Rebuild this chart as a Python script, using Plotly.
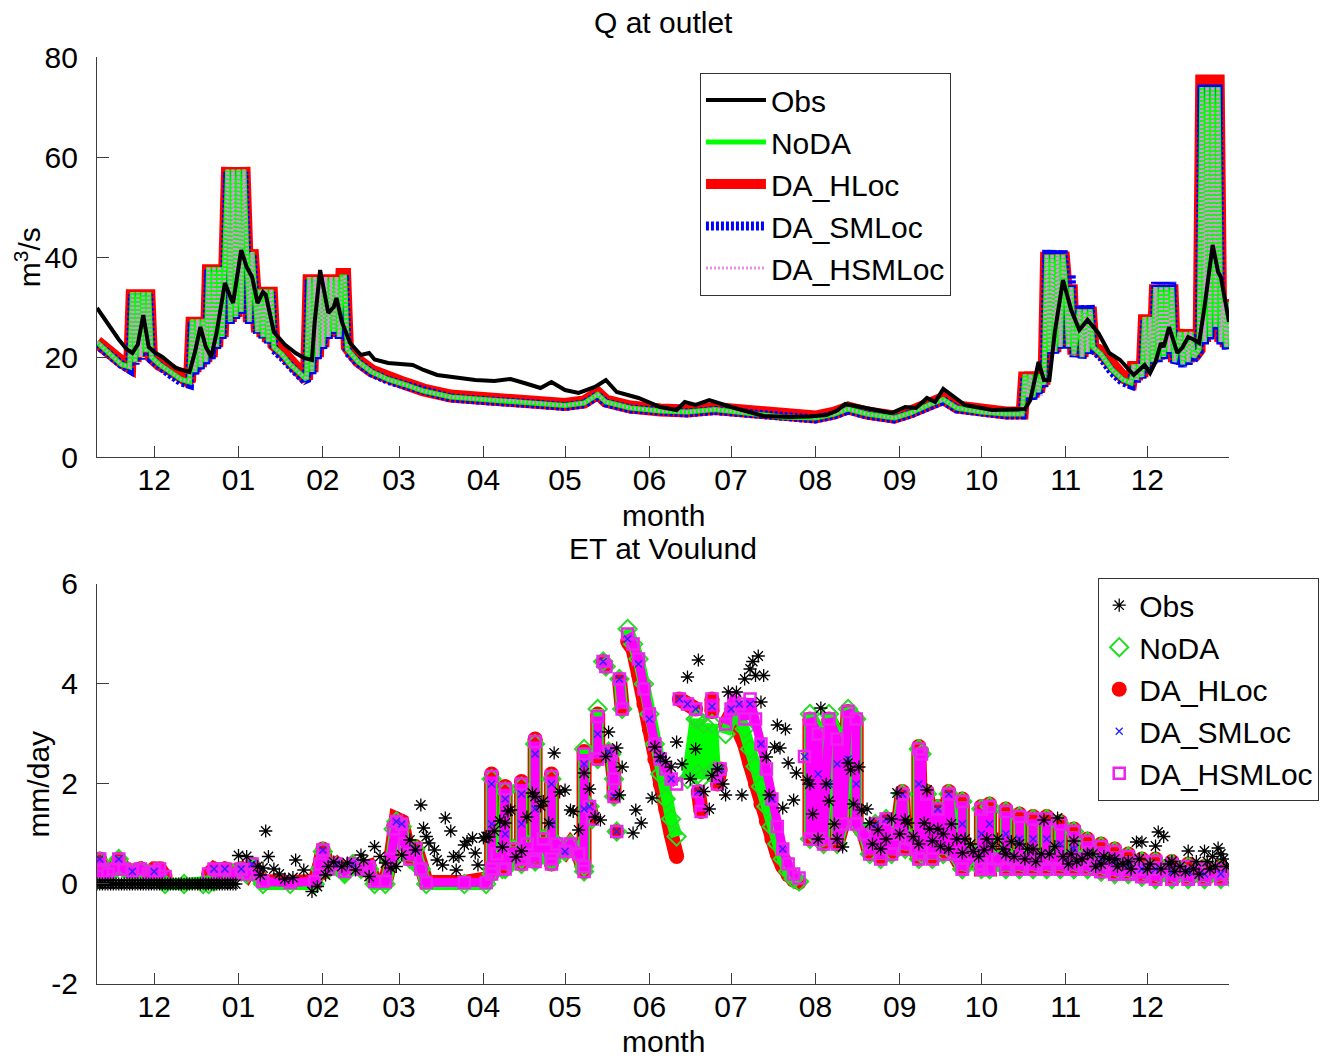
import plotly.graph_objects as go
import pandas as pd

# ------------------------------------------------------------------
# Q at outlet (m3/s)
# ------------------------------------------------------------------
q_obs_dates = [
    '2009-11-10', '2009-11-14', '2009-11-18', '2009-11-21', '2009-11-23', '2009-11-25', '2009-11-27', '2009-11-29',
    '2009-12-01', '2009-12-04', '2009-12-09', '2009-12-12', '2009-12-14', '2009-12-16', '2009-12-18', '2009-12-20',
    '2009-12-22', '2009-12-24', '2009-12-26', '2009-12-27', '2009-12-29', '2009-12-30', '2010-01-02', '2010-01-04',
    '2010-01-06', '2010-01-08', '2010-01-10', '2010-01-11', '2010-01-14', '2010-01-18', '2010-01-22', '2010-01-25',
    '2010-01-28', '2010-01-29', '2010-01-31', '2010-02-02', '2010-02-03', '2010-02-05', '2010-02-06', '2010-02-08',
    '2010-02-11', '2010-02-15', '2010-02-18', '2010-02-20', '2010-02-25', '2010-03-06', '2010-03-10', '2010-03-15',
    '2010-03-22', '2010-03-29', '2010-04-05', '2010-04-11', '2010-04-16', '2010-04-22', '2010-04-26', '2010-05-01',
    '2010-05-06', '2010-05-10', '2010-05-12', '2010-05-16', '2010-05-20', '2010-05-28', '2010-06-05', '2010-06-11',
    '2010-06-14', '2010-06-18', '2010-06-23', '2010-07-01', '2010-07-07', '2010-07-13', '2010-07-23', '2010-07-30',
    '2010-08-05', '2010-08-09', '2010-08-12', '2010-08-18', '2010-08-24', '2010-08-29', '2010-09-03', '2010-09-07',
    '2010-09-11', '2010-09-14', '2010-09-17', '2010-09-20', '2010-09-25', '2010-10-05', '2010-10-12', '2010-10-17',
    '2010-10-19', '2010-10-22', '2010-10-24', '2010-10-26', '2010-10-28', '2010-10-31', '2010-11-03', '2010-11-06',
    '2010-11-09', '2010-11-13', '2010-11-17', '2010-11-21', '2010-11-26', '2010-11-28', '2010-11-30', '2010-12-02',
    '2010-12-04', '2010-12-06', '2010-12-07', '2010-12-09', '2010-12-12', '2010-12-14', '2010-12-16', '2010-12-18',
    '2010-12-20', '2010-12-22', '2010-12-25', '2010-12-27', '2010-12-28', '2010-12-31']
q_obs = [
    29.8, 26.5, 23.5, 21.5, 20.8, 22.5, 28.4, 22,
    21, 20, 17.8, 17.3, 17, 21, 26, 22,
    20, 25, 32, 34.8, 32, 30.8, 41.4, 38,
    36, 30.8, 33, 32.5, 25, 22.5, 20.8, 19.8,
    19.4, 27, 37.4, 32, 28.8, 30, 31.8, 27,
    22.8, 20.4, 20.8, 19.5, 18.8, 18.4, 17.4, 16.4,
    15.8, 15.4, 15.2, 15.6, 14.8, 13.8, 15, 13.4,
    12.8, 13.5, 14, 15.4, 13, 11.8, 10, 9.4,
    11, 10.4, 11.4, 10, 9, 8.2, 8, 8.1,
    8.4, 9.3, 10.6, 10, 9.3, 8.8, 10, 9.8,
    11.8, 11, 13.6, 12.4, 10.4, 9.4, 9.6, 9.6,
    11.4, 19, 15.4, 15.4, 25, 35.4, 29.4, 25.4,
    27.4, 24.8, 20.8, 19.4, 16.4, 17.5, 18.4, 16.8,
    19, 22.8, 22, 26, 20.8, 22, 24, 23.5,
    22.8, 30, 42.4, 37, 36, 27]

q_sim_dates = [
    '2009-11-10', '2009-11-13', '2009-11-16', '2009-11-19', '2009-11-22', '2009-11-23', '2009-11-24', '2009-11-25',
    '2009-11-26', '2009-11-27', '2009-11-28', '2009-11-29', '2009-11-30', '2009-12-03', '2009-12-07', '2009-12-11',
    '2009-12-14',
    '2009-12-15', '2009-12-16', '2009-12-17', '2009-12-18', '2009-12-19', '2009-12-20', '2009-12-21', '2009-12-22',
    '2009-12-23', '2009-12-24', '2009-12-25', '2009-12-26', '2009-12-27', '2009-12-28', '2009-12-29', '2009-12-30',
    '2009-12-31', '2010-01-01', '2010-01-02', '2010-01-03', '2010-01-04', '2010-01-05', '2010-01-06', '2010-01-07',
    '2010-01-08', '2010-01-09', '2010-01-10', '2010-01-11', '2010-01-12', '2010-01-13', '2010-01-14',
    '2010-01-17', '2010-01-20', '2010-01-23', '2010-01-26', '2010-01-27', '2010-01-28', '2010-01-29', '2010-01-30',
    '2010-01-31', '2010-02-01', '2010-02-02', '2010-02-03', '2010-02-04', '2010-02-05', '2010-02-06', '2010-02-07',
    '2010-02-08', '2010-02-09', '2010-02-10',
    '2010-02-14', '2010-02-19', '2010-02-25', '2010-03-03', '2010-03-10', '2010-03-20', '2010-04-01', '2010-04-10',
    '2010-04-20', '2010-05-01', '2010-05-08', '2010-05-13', '2010-05-16', '2010-05-25', '2010-06-05', '2010-06-15',
    '2010-06-25', '2010-07-01', '2010-07-10', '2010-07-20', '2010-08-01', '2010-08-08', '2010-08-13', '2010-08-20',
    '2010-08-30', '2010-09-05', '2010-09-12', '2010-09-17', '2010-09-22', '2010-10-01', '2010-10-10', '2010-10-16',
    '2010-10-17', '2010-10-18', '2010-10-19', '2010-10-20', '2010-10-21', '2010-10-22', '2010-10-23', '2010-10-24',
    '2010-10-25', '2010-10-26', '2010-10-27', '2010-10-28', '2010-10-29', '2010-10-30', '2010-10-31', '2010-11-01',
    '2010-11-02', '2010-11-03', '2010-11-04', '2010-11-06', '2010-11-07', '2010-11-08', '2010-11-09', '2010-11-10',
    '2010-11-11', '2010-11-14', '2010-11-18', '2010-11-22', '2010-11-25', '2010-11-26', '2010-11-27', '2010-11-28',
    '2010-11-29',
    '2010-11-30', '2010-12-01', '2010-12-02', '2010-12-03', '2010-12-04', '2010-12-05', '2010-12-06', '2010-12-07',
    '2010-12-08', '2010-12-09', '2010-12-10', '2010-12-11', '2010-12-13', '2010-12-14', '2010-12-15', '2010-12-16',
    '2010-12-17', '2010-12-18', '2010-12-20', '2010-12-21', '2010-12-22', '2010-12-23', '2010-12-24', '2010-12-25',
    '2010-12-26', '2010-12-27', '2010-12-28', '2010-12-29', '2010-12-30', '2010-12-31']

q_noda = [
    23, 21.5, 20, 18.5, 18, 33, 19, 33, 20, 33, 21, 33, 20, 18.5, 17, 15.5, 15,
    27.5, 17, 27.5, 18, 27.5, 19, 38, 20, 38, 22, 38, 24, 38, 57.5, 27, 57.5, 28, 57.5, 29, 57.5,
    41, 27, 41, 33.5, 25, 33.5, 24, 33.5, 23, 33.5, 22,
    20.5, 18.5, 17, 15.5, 36, 17, 36, 20, 36, 22, 36, 24, 36, 25, 36, 24, 36, 36, 21.5,
    19, 17, 15.5, 14.5, 13.2, 12, 11.5, 11.3, 10.8, 10.3, 10.8, 12.5, 11, 9.8, 9.2, 9,
    9.5, 9.2, 8.6, 8, 7.8, 8.6, 9.6, 8.6, 7.8, 8.8, 10.5, 11.5, 9.8, 9, 8.6, 8.6,
    16.5, 12, 16.5, 12, 16.5, 13, 16.5, 14.5, 40.5, 21, 40.5, 21, 40.5, 22, 40.5, 34,
    22, 34, 20.5, 29.5, 20, 29.5, 21, 29.5, 22, 20.5, 17.5, 15.5, 14.8, 18.5, 15.5, 18.5, 16,
    28, 18, 28, 19, 34, 19.5, 34, 20, 34, 21, 34, 19, 25, 18.5, 25, 19, 25, 20, 21.5,
    74, 23, 74, 24, 74, 26, 74, 23, 31, 22, 31]
q_da_hloc = [
    23, 21.5, 20.5, 19, 18, 33.5, 19, 33.5, 20, 33.5, 21, 33.5, 20, 18.5, 17.5, 16, 15,
    28, 17, 28, 18, 28, 19, 38.5, 20, 38.5, 22, 38.5, 24, 38.5, 58, 27, 58, 28, 58, 29, 58,
    41.5, 27, 41.5, 34, 25, 34, 24, 34, 23, 34, 22.5,
    21, 19, 17.5, 15.5, 36.5, 17, 36.5, 20, 36.5, 22, 36.5, 24, 36.5, 25, 36.5, 24, 36.5, 36.5, 22,
    19.2, 17.2, 15.7, 14.7, 13.4, 12.2, 11.7, 11.5, 11, 10.5, 11, 12.7, 11.2, 10, 9.4, 9.2,
    9.7, 9.4, 8.8, 8.2, 8, 8.8, 9.8, 8.8, 8, 9, 10.7, 11.7, 10, 9.2, 8.8, 8.8,
    17, 12, 17, 12, 17, 13, 17, 14.5, 41, 21, 41, 21, 41, 22, 41, 34.5,
    22, 34.5, 20.5, 30, 20, 30, 21, 30, 22, 21, 18, 16, 15.2, 19, 15.5, 19, 16,
    28.5, 18, 28.5, 19, 34.5, 19.5, 34.5, 20, 34.5, 21, 34.5, 19, 25.5, 18.5, 25.5, 19, 25.5, 20, 21.5,
    76.5, 23, 76.5, 24, 76.5, 26, 76.5, 23, 31.5, 22, 31.5]
q_da_smloc = [
    22.5, 21, 19.5, 18.5, 17.5, 32.5, 18.5, 32.5, 19.5, 32.5, 20.5, 32.5, 19.5, 18, 16.5, 15, 14.5,
    27, 16.5, 27, 17.5, 27, 18.5, 37.5, 19.5, 37.5, 21.5, 37.5, 23.5, 37.5, 57, 26.5, 57, 27.5, 57, 28.5, 57,
    40.5, 26.5, 40.5, 33, 24.5, 33, 23.5, 33, 22.5, 33, 21.5,
    20, 18, 16.5, 15, 35.5, 16.5, 35.5, 19.5, 35.5, 21.5, 35.5, 23.5, 35.5, 24.5, 35.5, 23.5, 35.5, 35.5, 21,
    18.8, 16.8, 15.3, 14.3, 13, 11.8, 11.3, 11.1, 10.6, 10.1, 10.6, 12.3, 10.8, 9.6, 9, 8.8,
    9.3, 9, 8.4, 7.8, 7.6, 8.4, 9.4, 8.4, 7.6, 8.6, 10.3, 11.3, 9.6, 8.8, 8.4, 8.4,
    16, 11.5, 16, 11.5, 16, 12.5, 16, 14, 41.5, 20.5, 41.5, 20.5, 41.5, 21.5, 41.5, 36.5,
    21.5, 36.5, 20, 30.5, 19.5, 30.5, 20.5, 30.5, 21.5, 20, 17, 15, 14.4, 18, 15, 18, 15.5,
    27.5, 17.5, 27.5, 18.5, 35, 19, 35, 19.5, 35, 20.5, 35, 18.5, 24.5, 18, 24.5, 18.5, 24.5, 19.5, 21,
    74.5, 22.5, 74.5, 23.5, 74.5, 25.5, 74.5, 22.5, 30.5, 21.5, 30.5]
q_da_hsmloc = [
    23, 21.5, 20, 18.5, 18, 33, 19, 33, 20, 33, 21, 33, 20, 18.5, 17, 15.5, 15,
    27.5, 17, 27.5, 18, 27.5, 19, 38, 20, 38, 22, 38, 24, 38, 57.5, 27, 57.5, 28, 57.5, 29, 57.5,
    41, 27, 41, 33.5, 25, 33.5, 24, 33.5, 23, 33.5, 22,
    20.5, 18.5, 17, 15.5, 36, 17, 36, 20, 36, 22, 36, 24, 36, 25, 36, 24, 36, 36, 21.5,
    19, 17, 15.5, 14.5, 13.2, 12, 11.5, 11.3, 10.8, 10.3, 10.8, 12.5, 11, 9.8, 9.2, 9,
    9.5, 9.2, 8.6, 8, 7.8, 8.6, 9.6, 8.6, 7.8, 8.8, 10.5, 11.5, 9.8, 9, 8.6, 8.6,
    16.5, 12, 16.5, 12, 16.5, 13, 16.5, 14.5, 40.5, 21, 40.5, 21, 40.5, 22, 40.5, 34,
    22, 34, 20.5, 29.5, 20, 29.5, 21, 29.5, 22, 20.5, 17.5, 15.5, 14.8, 18.5, 15.5, 18.5, 16,
    28, 18, 28, 19, 34, 19.5, 34, 20, 34, 21, 34, 19, 25, 18.5, 25, 19, 25, 20, 21.5,
    74, 23, 74, 24, 74, 26, 74, 23, 31, 22, 31]

# ------------------------------------------------------------------
# ET at Voulund (mm/day)
# ------------------------------------------------------------------
et_start = '2009-11-10'
et_obs_day = [
    0, 1, 2, 3, 4, 5, 6, 7, 8, 9, 10, 11, 12, 13, 14, 15, 16, 17, 18, 19, 20, 21, 22, 23, 24, 25,
    26, 27, 28, 29, 30, 31, 32, 33, 34, 35, 36, 37, 38, 39, 40, 41, 42, 43, 44, 45, 46, 47, 48, 49, 50, 51,
    52, 55, 59, 60, 61, 62, 63, 65, 67, 69, 72, 73, 76, 79, 81, 84, 85, 87, 90, 92, 95, 97, 98, 100,
    102, 104, 106, 108, 110, 112, 115, 117, 119, 120, 121, 122, 124, 125, 127, 128, 130, 131, 132, 133,
    135, 136, 138, 139, 140, 142, 143, 144, 146, 148, 149, 150, 151, 152, 154, 156, 158, 160, 161, 163,
    164, 166, 168, 170, 172, 174, 175, 177, 179, 181, 183, 185, 187, 188, 191, 192, 193, 197, 198, 200,
    204, 205, 207, 209, 211, 213, 215, 217, 218, 220, 221, 223, 225, 226, 228, 230, 231, 232, 235, 237,
    238, 240, 241, 242, 243, 244, 245, 246, 247, 249, 250, 251, 252, 253, 254, 256, 257, 261, 262, 266,
    268, 269, 274, 276, 277, 280, 281, 284, 287, 290, 294, 297, 298, 300, 304, 305, 307, 309, 311, 313,
    316, 318, 321, 324, 326, 329, 331, 334, 337, 339, 341, 344, 345, 348, 350, 353, 355, 357, 359, 362,
    364, 367, 370, 372, 375, 377, 380, 382, 384, 386, 387, 389, 390, 392, 394, 396, 398, 401, 403, 405,
    407, 409, 410, 412, 413, 414, 415,
    263, 265, 271, 272, 278, 283, 285, 288, 292, 295, 302, 306, 310, 314, 319, 322, 327, 333, 336, 342,
    347, 352, 358, 360, 366, 369, 374, 379, 383, 391, 395, 400, 404, 408, 411]
et_obs = [
    0.0, 0.0, 0.0, 0.0, 0.0, 0.0, 0.0, 0.0, 0.0, 0.0, 0.0, 0.0, 0.0, 0.0, 0.0, 0.0, 0.0, 0.0, 0.0, 0.0, 0.0, 0.0, 0.0, 0.0, 0.0, 0.0,
    0.0, 0.0, 0.0, 0.0, 0.0, 0.0, 0.0, 0.0, 0.0, 0.0, 0.0, 0.0, 0.0, 0.0, 0.0, 0.0, 0.0, 0.0, 0.0, 0.0, 0.0, 0.0, 0.0, 0.0, 0.0, 0.0,
    0.57, 0.55, 0.35, 0.18, 0.32, 1.06, 0.55, 0.3, 0.2, 0.1, 0.13, 0.48, 0.28, -0.15, -0.05, 0.18, 0.35, 0.44, 0.35, 0.42, 0.28, 0.58, 0.48, 0.15,
    0.75, 0.55, 0.42, 0.32, 0.35, 0.58, 0.88, 0.68, 1.58, 1.12, 0.95, 0.82, 0.68, 0.48, 0.38, 1.32, 1.06, 0.55, 0.28, 0.55,
    0.78, 0.85, 0.92, 0.62, 0.38, 0.92, 0.95, 0.94, 1.06, 1.26, 0.74, 1.22, 1.46, 1.48, 0.54, 0.66, 1.34, 1.82, 1.75, 1.56,
    1.65, 1.22, 2.62, 1.84, 1.88, 1.48, 1.45, 1.08, 2.22, 1.9, 1.34, 1.28, 2.55, 3.04, 2.72, 1.78, 2.34, 1.02, 1.48, 1.22,
    1.72, 2.74, 2.54, 2.45, 2.34, 2.84, 2.4, 4.14, 2.1, 2.7, 4.48, 1.85, 1.5, 2.17, 2.3, 2.0, 1.78, 3.84, 3.84, 1.78,
    4.1, 4.3, 4.45, 4.17, 4.56, 3.64, 4.17, 2.54, 1.78, 2.74, 3.18, 2.72, 1.52, 3.1, 2.42, 1.68, 2.22, 2.08, 2.0, 3.52,
    2.0, 1.66, 0.74, 2.42, 2.28, 2.34, 1.48, 1.22, 1.08, 0.9, 1.82, 1.28, 1.22, 0.95, 1.22, 1.88, 0.86, 1.1, 1.0, 0.7,
    0.9, 0.62, 0.8, 0.55, 0.68, 0.75, 0.9, 0.6, 0.55, 0.8, 0.5, 0.7, 0.45, 1.28, 0.6, 1.32, 0.55, 0.4, 0.86, 0.5,
    0.6, 0.35, 0.55, 0.5, 0.35, 0.4, 0.3, 0.84, 0.84, 0.3, 0.4, 0.76, 1.04, 0.95, 0.4, 0.25, 0.35, 0.66, 0.3, 0.2,
    0.66, 0.3, 0.55, 0.72, 0.6, 0.5, 0.35,
    1.4, 0.9, 1.2, 0.9, 1.6, 1.5, 0.8, 0.7, 1.3, 1.0, 0.8, 1.1, 0.75, 1.2, 0.9, 0.65, 0.9, 0.7, 0.85, 0.7,
    0.6, 0.75, 0.6, 0.45, 0.6, 0.4, 0.5, 0.45, 0.5, 0.3, 0.45, 0.25, 0.45, 0.45, 0.35]

et_sim_dates = [
    # A
    '2009-11-10', '2009-11-11', '2009-11-12', '2009-11-14', '2009-11-16', '2009-11-18', '2009-11-20', '2009-11-23',
    '2009-11-26', '2009-11-29', '2009-12-01', '2009-12-03', '2009-12-05',
    # B
    '2009-12-12', '2009-12-19', '2009-12-21', '2009-12-23', '2009-12-25', '2009-12-27', '2009-12-30', '2010-01-02',
    '2010-01-04', '2010-01-06', '2010-01-08', '2010-01-10', '2010-01-20', '2010-01-29',
    # C
    '2010-01-31', '2010-02-01', '2010-02-03', '2010-02-06', '2010-02-09', '2010-02-12', '2010-02-15', '2010-02-18',
    '2010-02-20', '2010-02-24', '2010-02-26', '2010-02-27', '2010-02-28', '2010-03-02', '2010-03-03', '2010-03-05',
    '2010-03-07', '2010-03-09', '2010-03-11', '2010-03-25',
    # D
    '2010-04-02', '2010-04-04', '2010-04-04', '2010-04-04', '2010-04-06', '2010-04-08', '2010-04-09', '2010-04-09',
    '2010-04-12', '2010-04-15', '2010-04-15', '2010-04-15', '2010-04-17', '2010-04-20', '2010-04-20', '2010-04-20',
    '2010-04-23', '2010-04-26', '2010-04-26', '2010-04-26', '2010-04-28', '2010-05-01', '2010-05-03', '2010-05-06',
    '2010-05-08', '2010-05-08', '2010-05-08',
    # E
    '2010-05-09', '2010-05-10', '2010-05-11', '2010-05-12', '2010-05-13', '2010-05-13', '2010-05-14', '2010-05-15',
    '2010-05-16', '2010-05-16', '2010-05-17', '2010-05-18', '2010-05-19', '2010-05-19', '2010-05-20', '2010-05-20',
    '2010-05-21', '2010-05-21', '2010-05-22', '2010-05-23', '2010-05-24', '2010-05-26', '2010-05-28', '2010-05-30',
    '2010-06-01', '2010-06-03', '2010-06-05', '2010-06-07', '2010-06-09', '2010-06-11',
    # F
    '2010-06-11', '2010-06-12', '2010-06-15', '2010-06-18', '2010-06-19', '2010-06-19', '2010-06-20', '2010-06-21',
    '2010-06-24', '2010-06-24', '2010-06-25', '2010-06-26', '2010-06-27', '2010-06-28', '2010-06-29', '2010-07-01',
    '2010-07-02', '2010-07-04', '2010-07-06', '2010-07-08', '2010-07-10', '2010-07-12', '2010-07-14', '2010-07-16',
    '2010-07-18', '2010-07-20', '2010-07-22', '2010-07-24', '2010-07-26',
    # G
    '2010-07-27', '2010-07-28', '2010-07-29', '2010-07-30', '2010-07-30', '2010-08-02', '2010-08-02', '2010-08-04',
    '2010-08-06', '2010-08-09', '2010-08-09', '2010-08-11', '2010-08-13', '2010-08-16', '2010-08-16', '2010-08-19',
    '2010-08-21', '2010-08-23', '2010-08-25', '2010-08-27', '2010-08-29',
    # H
    '2010-08-31', '2010-09-02', '2010-09-03', '2010-09-05', '2010-09-08', '2010-09-08', '2010-09-09', '2010-09-09',
    '2010-09-11', '2010-09-13', '2010-09-15', '2010-09-17', '2010-09-19', '2010-09-21', '2010-09-24', '2010-09-24',
    '2010-09-24', '2010-09-28', '2010-10-01', '2010-10-01', '2010-10-01', '2010-10-04', '2010-10-04', '2010-10-04',
    '2010-10-07', '2010-10-10', '2010-10-10', '2010-10-10', '2010-10-13', '2010-10-15', '2010-10-15', '2010-10-15',
    '2010-10-18', '2010-10-20', '2010-10-20', '2010-10-20',
    # I
    '2010-10-23', '2010-10-25', '2010-10-25', '2010-10-25', '2010-10-28', '2010-10-30', '2010-10-30', '2010-10-30',
    '2010-11-02', '2010-11-04', '2010-11-04', '2010-11-04', '2010-11-07', '2010-11-09', '2010-11-09', '2010-11-09',
    '2010-11-12', '2010-11-14', '2010-11-14', '2010-11-14', '2010-11-17', '2010-11-19', '2010-11-19', '2010-11-19',
    '2010-11-22', '2010-11-24', '2010-11-24', '2010-11-24', '2010-11-27', '2010-11-29', '2010-11-29', '2010-11-29',
    '2010-12-02', '2010-12-04', '2010-12-04', '2010-12-04', '2010-12-08', '2010-12-10', '2010-12-10', '2010-12-10',
    '2010-12-14', '2010-12-16', '2010-12-16', '2010-12-16', '2010-12-20', '2010-12-22', '2010-12-22', '2010-12-22',
    '2010-12-26', '2010-12-28', '2010-12-28', '2010-12-31']

et_da_hsmloc = [
    0.15, 0.5, 0.25, 0.2, 0.3, 0.5, 0.3, 0.25, 0.3, 0.2, 0.25, 0.3, 0.15,
    None, None, 0.2, 0.3, 0.2, 0.3, 0.2, 0.3, 0.2, 0.4, 0.2, 0.05, 0.03, 0.05,
    0.4, 0.68, 0.3, 0.4, 0.25, 0.4, 0.3, 0.35, 0.05, 0.05, 0.5, 1.1, 1.25, 1.2, 0.8, 0.5, 0.7, 0.3, 0.03, 0.03,
    0.03, 0.2, 2.15, 0.3, 0.6, 0.3, 1.9, 0.3, 0.7, 0.4, 2.0, 0.5, 0.8, 0.45, 2.85, 0.5, 0.9, 0.4, 2.15, 0.5,
    0.8, 0.65, 0.8, 0.6, 0.25, 2.6, 0.35,
    None, 1.55, 1.3, None, 2.5, 3.35, None, 4.45, 4.35, None, 2.65, 2.6, 2.1, 1.75, None, 1.05, None, 4.1, 3.5, None,
    5.0, 4.8, 4.5, 3.9, 3.4, 2.8, 2.5, 2.3, 2.1, 2.0,
    None, 3.7, 3.6, 3.5, None, 1.85, 1.45, None, 3.7, 3.45, None, 2.0, 2.3, None, 3.2, 3.5, 3.7, 3.6, 3.3, 3.7,
    3.3, 2.8, 2.3, 1.7, 1.15, 0.7, 0.4, 0.2, 0.12,
    None, 2.55, None, 0.9, 3.3, 3.0, 0.9, 0.8, 3.3, 2.9, 0.8, 1.2, 3.45, 3.3, 1.2, 1.0, 0.6, 1.2, 0.5, 1.3, 0.6,
    1.0, 1.8, 0.7, 0.9, 0.5, 2.7, 2.6, 0.6, 1.8, 0.5, 1.5, 0.6, 1.8, 0.6, 0.3, 1.65, 0.3, 0.6, 0.4, 1.5,
    0.3, 0.3, 1.55, 0.3, 0.5, 0.3, 1.45, 0.3, 0.5, 0.3, 1.35, 0.3, 0.5, 0.3, 1.3, 0.3,
    0.5, 0.3, 1.3, 0.3, 0.5, 0.3, 1.2, 0.3, 0.5, 0.3, 1.05, 0.3, 0.5, 0.3, 0.85, 0.3, 0.4, 0.25, 0.75, 0.25,
    0.4, 0.2, 0.65, 0.2, 0.35, 0.2, 0.55, 0.2, 0.3, 0.15, 0.45, 0.15, 0.3, 0.1, 0.45, 0.1, 0.3, 0.1, 0.4, 0.1,
    0.25, 0.1, 0.35, 0.1, 0.25, 0.1, 0.3, 0.1, 0.25, 0.1, 0.3, 0.15]
et_da_hloc = [
    0.15, 0.5, 0.25, 0.2, 0.3, 0.5, 0.3, 0.25, 0.3, 0.2, 0.3, 0.3, 0.15,
    None, None, 0.2, 0.3, 0.25, 0.3, 0.25, 0.3, 0.2, 0.4, 0.2, 0.05, 0.03, 0.05,
    0.4, 0.7, 0.3, 0.4, 0.25, 0.4, 0.3, 0.35, 0.05, 0.05, 0.5, 1.15, 1.3, 1.25, 0.8, 0.5, 0.75, 0.3, 0.03, 0.03,
    0.1, 0.2, 2.2, 0.3, 0.6, 0.3, 1.95, 0.3, 0.7, 0.4, 2.05, 0.5, 0.8, 0.45, 2.9, 0.5, 0.9, 0.4, 2.2, 0.5,
    0.8, 0.65, 0.8, 0.6, 0.25, 2.65, 0.35,
    None, 1.55, 1.3, None, 2.5, 3.4, None, 4.45, 4.35, None, 2.65, 2.6, 2.1, 1.75, None, 1.05, None, 4.1, 3.5, None,
    4.85, 4.7, 4.2, 3.6, 3.1, 2.5, 2.0, 1.5, 1.0, 0.55,
    None, 3.7, 3.6, 3.5, None, 1.85, 1.45, None, 3.7, 3.45, None, 2.0, 2.3, None, 3.2, 3.4, 3.3, 3.1, 2.8, 2.4,
    2.0, 1.6, 1.25, 0.9, 0.6, 0.35, 0.18, 0.08, 0.03,
    None, None, None, 0.9, 3.3, 3.0, 0.9, 0.8, 3.3, 3.0, 0.8, 1.2, 3.45, 3.3, 1.2, 1.0, 0.6, 1.2, 0.5, 1.3, 0.6,
    1.0, 1.85, 0.7, 0.9, 0.5, 2.75, 2.65, 0.6, 1.85, 0.5, 1.55, 0.6, 1.85, 0.6, 0.3, 1.7, 0.3, 0.6, 0.4, 1.55,
    0.3, 0.3, 1.6, 0.3, 0.5, 0.3, 1.5, 0.3, 0.5, 0.3, 1.4, 0.3, 0.5, 0.3, 1.35, 0.3,
    0.5, 0.3, 1.35, 0.3, 0.5, 0.3, 1.25, 0.3, 0.5, 0.3, 1.1, 0.3, 0.5, 0.3, 0.9, 0.3, 0.4, 0.25, 0.8, 0.25,
    0.4, 0.2, 0.7, 0.2, 0.35, 0.2, 0.6, 0.2, 0.3, 0.15, 0.5, 0.15, 0.3, 0.1, 0.5, 0.1, 0.3, 0.1, 0.45, 0.1,
    0.25, 0.1, 0.4, 0.1, 0.25, 0.1, 0.35, 0.1, 0.25, 0.1, 0.35, 0.15]
et_noda = [
    0.1, 0.45, 0.2, 0.2, 0.25, 0.5, 0.3, 0.2, 0.25, 0.2, 0.2, 0.1, 0.0,
    0.0, 0.0, 0.0, 0.05, 0.1, 0.2, 0.2, 0.25, 0.2, 0.35, 0.15, 0.0, 0.0, 0.0,
    0.3, 0.65, 0.3, 0.35, 0.2, 0.4, 0.3, 0.3, 0.0, 0.0, 0.45, 1.1, 1.25, 1.15, 0.8, 0.5, 0.7, 0.3, 0.0, 0.0,
    0.0, 0.2, 2.1, 0.3, 0.6, 0.3, 1.85, 0.3, 0.7, 0.4, 1.95, 0.5, 0.8, 0.45, 2.8, 0.5, 0.9, 0.45, 2.1, 0.5,
    0.8, 0.65, 0.8, 0.6, 0.25, 2.7, 0.35,
    None, 1.55, 1.3, None, 2.5, 3.5, None, 4.45, 4.35, None, 2.65, 2.6, 2.1, 1.75, None, 1.05, None, 4.1, 3.5, None,
    5.1, 4.8, 4.5, 4.0, 3.4, 2.8, 2.2, 1.7, 1.3, 0.95,
    None, None, 2.1, 3.3, 2.2, 3.3, 2.1, 3.2, 2.2, 3.2, 2.3, None, None, None, 3.0, 3.3, 3.5, 3.4, 3.1, 2.7,
    2.35, 1.95, 1.55, 1.15, 0.8, 0.5, 0.25, 0.1, 0.05,
    None, None, None, 0.9, 3.4, 3.1, 0.9, 0.8, 3.4, 3.0, 0.8, 1.2, 3.5, 3.3, 1.2, 1.0, 0.6, 1.2, 0.5, 1.3, 0.6,
    1.0, 1.8, 0.7, 0.9, 0.5, 2.7, 2.6, 0.6, 1.8, 0.5, 1.5, 0.6, 1.8, 0.6, 0.3, 1.65, 0.3, 0.6, 0.4, 1.5,
    0.3, 0.3, 1.55, 0.3, 0.5, 0.3, 1.45, 0.3, 0.5, 0.3, 1.35, 0.3, 0.5, 0.3, 1.3, 0.3,
    0.5, 0.3, 1.3, 0.3, 0.5, 0.3, 1.2, 0.3, 0.5, 0.3, 1.05, 0.3, 0.5, 0.3, 0.85, 0.3, 0.4, 0.25, 0.75, 0.25,
    0.4, 0.2, 0.65, 0.2, 0.35, 0.2, 0.55, 0.2, 0.3, 0.15, 0.45, 0.15, 0.3, 0.1, 0.45, 0.1, 0.3, 0.1, 0.4, 0.1,
    0.25, 0.1, 0.35, 0.1, 0.25, 0.1, 0.3, 0.1, 0.25, 0.1, 0.3, 0.15]

et_smloc_dates = [
    '2009-11-11', '2009-11-18', '2009-11-23', '2009-12-01', '2009-12-23', '2009-12-27', '2010-01-02', '2010-01-06',
    '2010-02-01', '2010-02-06', '2010-02-12', '2010-02-28', '2010-03-02', '2010-03-07', '2010-04-04', '2010-04-04',
    '2010-04-09', '2010-04-09', '2010-04-15', '2010-04-15', '2010-04-20', '2010-04-20', '2010-04-26', '2010-04-26',
    '2010-05-01', '2010-05-08', '2010-05-08', '2010-05-10', '2010-05-13', '2010-05-15', '2010-05-17', '2010-05-19',
    '2010-05-20', '2010-05-21', '2010-05-24', '2010-05-28', '2010-06-01', '2010-06-05', '2010-06-09', '2010-06-12',
    '2010-06-15', '2010-06-18', '2010-06-19', '2010-06-24', '2010-06-27', '2010-07-01', '2010-07-04', '2010-07-08',
    '2010-07-12', '2010-07-16', '2010-07-20', '2010-07-28', '2010-07-30', '2010-08-02', '2010-08-06', '2010-08-09',
    '2010-08-13', '2010-08-16', '2010-08-23', '2010-08-27', '2010-09-02', '2010-09-08', '2010-09-15', '2010-09-19',
    '2010-09-24', '2010-10-01', '2010-10-04', '2010-10-10', '2010-10-15', '2010-10-20', '2010-10-25', '2010-10-30',
    '2010-11-04', '2010-11-09', '2010-11-14', '2010-11-19', '2010-11-24', '2010-11-29', '2010-12-04', '2010-12-10',
    '2010-12-16', '2010-12-22', '2010-12-28']
et_da_smloc = [
    0.5, 0.5, 0.25, 0.25, 0.3, 0.3, 0.3, 0.4,
    0.68, 0.4, 0.4, 1.25, 1.2, 0.7, 1.2, 2.0,
    1.0, 1.7, 1.2, 1.8, 1.5, 2.6, 1.2, 2.0,
    0.65, 1.5, 2.4, 1.55, 3.0, 4.45, 2.65, 1.75,
    1.05, 4.1, 4.9, 4.4, 3.3, 2.5, 2.1, 3.7,
    3.6, 3.5, 1.85, 3.55, 2.3, 3.5, 3.6, 3.6,
    2.8, 1.7, 0.7, 2.55, 2.0, 2.2, 2.0, 2.4,
    2.5, 2.0, 1.2, 1.3, 1.8, 2.0, 1.5, 1.8,
    1.2, 1.0, 1.2, 1.0, 0.9, 0.9, 0.9, 0.8,
    0.7, 0.6, 0.5, 0.45, 0.4, 0.3, 0.3, 0.25,
    0.25, 0.2, 0.2]

for name, arr, ref in [('q_obs', q_obs, q_obs_dates), ('q_noda', q_noda, q_sim_dates),
                       ('q_da_hloc', q_da_hloc, q_sim_dates), ('q_da_smloc', q_da_smloc, q_sim_dates),
                       ('q_da_hsmloc', q_da_hsmloc, q_sim_dates), ('et_obs', et_obs, et_obs_day),
                       ('et_noda', et_noda, et_sim_dates), ('et_da_hloc', et_da_hloc, et_sim_dates),
                       ('et_da_hsmloc', et_da_hsmloc, et_sim_dates), ('et_da_smloc', et_da_smloc, et_smloc_dates)]:
    if len(arr) != len(ref):
        raise SystemExit(f"length mismatch {name}: {len(arr)} vs {len(ref)}")

et_obs_dates = pd.Timestamp(et_start) + pd.to_timedelta(et_obs_day, unit='D')

# ------------------------------------------------------------------
FONT = "Liberation Sans, Arial, sans-serif"
FS = 30
AX = '#3c3c3c'

fig = go.Figure()

# ---- top panel ----
fig.add_trace(go.Scatter(x=q_sim_dates, y=q_da_hloc, mode='lines', name='DA_HLoc',
                         line=dict(color='#ff0000', width=13), legendrank=3, legendgroup='q3',
                         xaxis='x', yaxis='y', legend='legend'))
fig.add_trace(go.Scatter(x=q_sim_dates, y=q_da_smloc, mode='lines', name='DA_SMLoc',
                         line=dict(color='#0000ff', width=9, dash='3px,2px'), legendrank=4, legendgroup='q4',
                         xaxis='x', yaxis='y', legend='legend'))
fig.add_trace(go.Scatter(x=q_sim_dates, y=q_noda, mode='lines', name='NoDA',
                         line=dict(color='#00ff00', width=5), legendrank=2, legendgroup='q2',
                         xaxis='x', yaxis='y', legend='legend'))
fig.add_trace(go.Scatter(x=q_sim_dates, y=q_da_hsmloc, mode='lines', name='DA_HSMLoc',
                         line=dict(color='#e58ee5', width=3, dash='2px,2px'), legendrank=5, legendgroup='q5',
                         xaxis='x', yaxis='y', legend='legend'))
fig.add_trace(go.Scatter(x=q_obs_dates, y=q_obs, mode='lines', name='Obs',
                         line=dict(color='#000000', width=4), legendrank=1, legendgroup='q1',
                         xaxis='x', yaxis='y', legend='legend'))

# ---- bottom panel ----
fig.add_trace(go.Scatter(x=et_sim_dates, y=et_da_hloc, mode='lines', showlegend=False,
                         line=dict(color='#ff0000', width=15), legendgroup='e3',
                         xaxis='x2', yaxis='y2'))
fig.add_trace(go.Scatter(x=et_sim_dates, y=et_da_hloc, mode='markers', name='DA_HLoc',
                         marker=dict(symbol='circle', size=15, color='#ff0000'), legendrank=3, legendgroup='e3',
                         xaxis='x2', yaxis='y2', legend='legend2'))
fig.add_trace(go.Scatter(x=et_sim_dates, y=et_noda, mode='lines', showlegend=False,
                         line=dict(color='#00ff00', width=12), legendgroup='e2',
                         xaxis='x2', yaxis='y2'))
fig.add_trace(go.Scatter(x=et_sim_dates, y=et_noda, mode='markers', name='NoDA',
                         marker=dict(symbol='diamond-open', size=14, color='#22dd22', line=dict(width=2)),
                         legendrank=2, legendgroup='e2', xaxis='x2', yaxis='y2', legend='legend2'))
fig.add_trace(go.Scatter(x=et_sim_dates, y=et_da_hsmloc, mode='lines', showlegend=False,
                         line=dict(color='#ff00ff', width=9), legendgroup='e5',
                         xaxis='x2', yaxis='y2'))
fig.add_trace(go.Scatter(x=et_sim_dates, y=et_da_hsmloc, mode='markers', name='DA_HSMLoc',
                         marker=dict(symbol='square-open', size=11, color='#ee22ee', line=dict(width=2.5)),
                         legendrank=5, legendgroup='e5', xaxis='x2', yaxis='y2', legend='legend2'))
fig.add_trace(go.Scatter(x=et_smloc_dates, y=et_da_smloc, mode='markers', name='DA_SMLoc',
                         marker=dict(symbol='x-thin-open', size=7, color='#2222ff', line=dict(width=1.3, color='#2222ff')),
                         legendrank=4, legendgroup='e4', xaxis='x2', yaxis='y2', legend='legend2'))
fig.add_trace(go.Scatter(x=et_obs_dates, y=et_obs, mode='markers', name='Obs',
                         marker=dict(symbol='asterisk-open', size=11, color='#000000', line=dict(width=1.3, color='#000000')),
                         legendrank=1, legendgroup='e1', xaxis='x2', yaxis='y2', legend='legend2'))

xcommon = dict(type='date', range=['2009-11-10', '2010-12-31'], tickformat='%m', dtick='M1',
               tick0='2009-12-01', ticks='inside', ticklen=11, tickwidth=1.2, tickcolor=AX,
               showline=True, linecolor=AX, linewidth=1.3, mirror=False, showgrid=False, zeroline=False,
               ticklabelstandoff=-4, tickfont=dict(family=FONT, size=FS, color='#000000'))
ycommon = dict(ticks='inside', ticklen=12, tickwidth=1.2, tickcolor=AX, showline=True, linecolor=AX,
               linewidth=1.3, mirror=False, showgrid=False, zeroline=False, ticklabelstandoff=12,
               tickfont=dict(family=FONT, size=FS, color='#000000'))

legend_common = dict(bgcolor='#ffffff', bordercolor='#333333', borderwidth=1.2,
                     font=dict(family=FONT, size=30, color='#000000'), xanchor='left', yanchor='top',
                     tracegroupgap=0)

y1_ticks = [0, 20, 40, 60, 80]
y2_ticks = [-2, 0, 2, 4, 6]

fig.update_layout(
    width=1330, height=1058,
    margin=dict(l=97, r=100, t=57, b=74),
    paper_bgcolor='#ffffff', plot_bgcolor='#ffffff',
    font=dict(family=FONT, size=FS, color='#000000'),
    xaxis=dict(domain=[0, 1], anchor='y', **xcommon),
    yaxis=dict(domain=[0.5685, 1.0], anchor='x', range=[0, 80], tickvals=y1_ticks,
               ticktext=[str(v) for v in y1_ticks], **ycommon),
    xaxis2=dict(domain=[0, 1], anchor='y2', **xcommon),
    yaxis2=dict(domain=[0, 0.4315], anchor='x2', range=[-2, 6], tickvals=y2_ticks,
                ticktext=[str(v) for v in y2_ticks], **ycommon),
    legend=dict(x=0.532, y=0.983, itemwidth=60, **legend_common),
    legend2=dict(x=0.8835, y=0.438, itemwidth=30, **legend_common),
    annotations=[
        dict(text='Q at outlet', x=0.5, y=1.0377, xref='paper', yref='paper', showarrow=False,
             xanchor='center', yanchor='middle', font=dict(family=FONT, size=FS)),
        dict(text='ET at Voulund', x=0.5, y=0.4703, xref='paper', yref='paper', showarrow=False,
             xanchor='center', yanchor='middle', font=dict(family=FONT, size=FS)),
        dict(text='month', x=0.5, y=0.505, xref='paper', yref='paper', showarrow=False,
             xanchor='center', yanchor='middle', font=dict(family=FONT, size=FS)),
        dict(text='month', x=0.5, y=-0.0625, xref='paper', yref='paper', showarrow=False,
             xanchor='center', yanchor='middle', font=dict(family=FONT, size=FS)),
        dict(text='m<sup>3</sup>/s', x=-0.061, y=0.784, xref='paper', yref='paper', showarrow=False,
             textangle=-90, xanchor='center', yanchor='middle', font=dict(family=FONT, size=FS)),
        dict(text='mm/day', x=-0.0525, y=0.2157, xref='paper', yref='paper', showarrow=False,
             textangle=-90, xanchor='center', yanchor='middle', font=dict(family=FONT, size=FS)),
    ],
)

fig.write_html("out.html")
